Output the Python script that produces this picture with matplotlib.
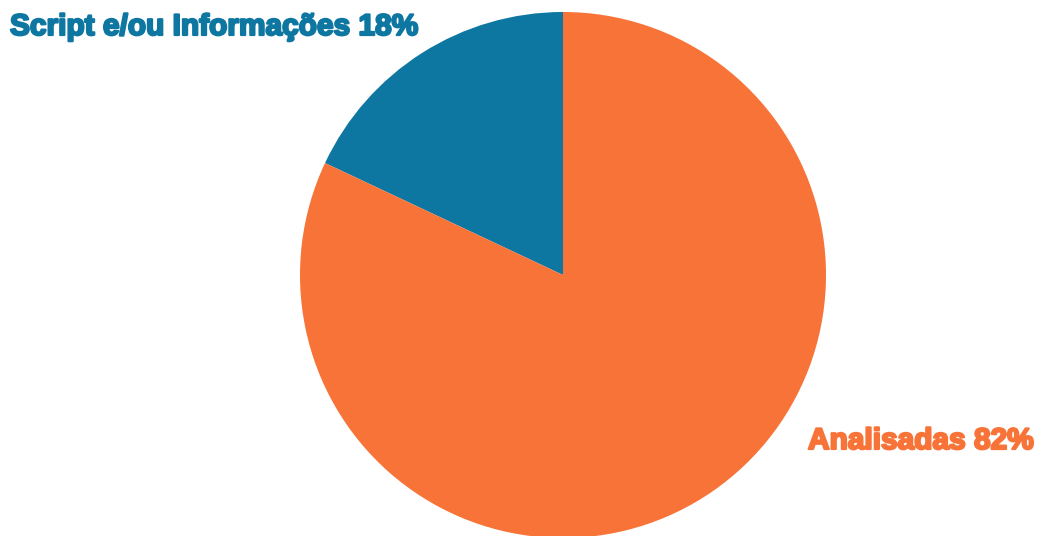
import matplotlib.pyplot as plt
import matplotlib.patheffects as pe

# Dados
categorias = ['Script e/ou Informações', 'Analisadas']
valores = [18, 82]
cores = ['#0E77A1', '#F77338']

fig = plt.figure(figsize=(10.38, 5.36), dpi=100)
ax = fig.add_axes([0, 0, 1, 1])
ax.set_xlim(0, 1038)
ax.set_ylim(0, 536)
ax.set_aspect('equal')
ax.axis('off')

ax.pie(valores, colors=cores, startangle=90, counterclock=True,
       center=(563, 261), radius=263, frame=True,
       wedgeprops={'linewidth': 0})
ax.set_xlim(0, 1038)
ax.set_ylim(0, 536)
ax.axis('off')

fonte = {'family': 'Liberation Sans', 'weight': 'bold', 'size': 21.5}
efeito = lambda c: [pe.withStroke(linewidth=1.6, foreground=c)]

ax.text(10, 501, f'{categorias[0]} {valores[0]}%', color=cores[0],
        ha='left', va='baseline', fontdict=fonte, path_effects=efeito(cores[0]))
ax.text(808, 87, f'{categorias[1]} {valores[1]}%', color=cores[1],
        ha='left', va='baseline', fontdict=fonte, path_effects=efeito(cores[1]))

fig.savefig('out.png', dpi=100)
